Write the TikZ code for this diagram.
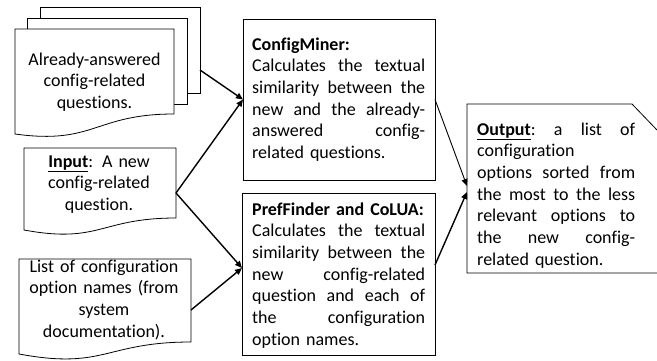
\documentclass[tikz,border=0pt]{standalone}
\usepackage{fontspec}
\setmainfont{Carlito}[Ligatures=NoCommon]
\usetikzlibrary{arrows.meta}
\newcommand\jlA[1]{\leavevmode\hbox to 173pt{#1}}
\newcommand\jlB[1]{\leavevmode\hbox to 158pt{#1}}
\begin{document}
\begin{tikzpicture}[x=1pt,y=-1pt,
  shp/.style={draw=black, line width=0.8pt, fill=white},
  ghost/.style={inner sep=0pt, outer sep=0pt, anchor=north west},
  txt/.style={inner sep=0pt, font=\fontsize{18pt}{21.67pt}\selectfont},
  arr/.style={line width=1.4pt, -{Triangle[length=7pt,width=6pt]}},
  thinarr/.style={line width=0.9pt, -{Triangle[length=7pt,width=6pt]}}]
\useasboundingbox[fill=white] (0,0) rectangle (657,360);

% stacked documents
\node[ghost, shp, minimum width=160pt, minimum height=86pt] (aa3) at (40,7) {};
\node[ghost, shp, minimum width=160pt, minimum height=86pt] (aa2) at (27,18) {};
\node[ghost, minimum width=159pt, minimum height=85pt] (aa1) at (15,29) {};
\draw[shp] (aa1.north west) -- (aa1.north east) -- (aa1.south east)
  .. controls (94.5,114) and (94.5,145) .. (15,134) -- cycle;

% input document
\node[ghost, minimum width=152pt, minimum height=90pt] (inp) at (24,148) {};
\draw[shp] (inp.north west) -- (inp.north east) -- (176,218)
  .. controls (100,218) and (100,244) .. (24,230) -- cycle;

% list document
\node[ghost, minimum width=172pt, minimum height=102pt] (lst) at (19,259) {};
\draw[shp] (lst.north west) -- (lst.north east) -- (191,342)
  .. controls (105,342) and (105,370) .. (19,354) -- cycle;

% process boxes
\node[ghost, shp, minimum width=192pt, minimum height=161pt] (cm) at (243,19) {};
\node[ghost, shp, minimum width=193pt, minimum height=162pt] (pf) at (242,193) {};

% output
\node[ghost, minimum width=190pt, minimum height=169pt] (out) at (467,104) {};
\draw[draw=black, line width=0.8pt] (657,130) -- (632,104) -- (out.north west)
  -- (out.south west) -- (out.south east);

% texts
\node[txt, align=center, text width=160pt, anchor=base] (aat) at (94.5,65)
  {Already-answered\\config-related\\questions.};
\node[txt, align=center, text width=150pt, anchor=base] (inpt) at (99,167)
  {\underline{\textbf{Input}}: A new\\config-related\\question.};
\node[txt, align=center, text width=170pt, anchor=base] (lstt) at (104,272)
  {List of configuration\\option names (from\\system\\documentation).};
\node[txt, align=left, text width=174pt, anchor=base west] (cmt) at (252,50)
  {\textbf{ConfigMiner:}\\
   \jlA{Calculates\hfill the\hfill textual}\\
   \jlA{similarity\hfill between\hfill the}\\
   \jlA{new\hfill and\hfill the\hfill already-}\\
   \jlA{answered\hfill config-}\\
   related questions.};
\node[txt, align=left, text width=174pt, anchor=base west] (pft) at (252,215)
  {\textbf{PrefFinder and CoLUA:}\\
   \jlA{Calculates\hfill the\hfill textual}\\
   \jlA{similarity\hfill between\hfill the}\\
   \jlA{new\hfill config-related}\\
   \jlA{question\hfill and\hfill each\hfill of}\\
   \jlA{the\hfill configuration}\\
   option names.};
\node[txt, align=left, text width=159pt, anchor=base west] (outt) at (477,135)
  {\jlB{\underline{\textbf{Output}}:\hfill a\hfill list\hfill of}\\
   configuration\\
   \jlB{options\hfill sorted\hfill from}\\
   \jlB{the\hfill most\hfill to\hfill the\hfill less}\\
   \jlB{relevant\hfill options\hfill to}\\
   \jlB{the\hfill new\hfill config-}\\
   related question.};

% connectors
\draw[arr] ([yshift=-20pt]aa3.east) -- (cm.west);
\draw[arr] (inp.east) -- (cm.west);
\draw[arr] (inp.east) -- ([yshift=6pt]pf.west);
\draw[arr] (lst.east) -- ([yshift=6pt]pf.west);
\draw[thinarr] (cm.east) -- ([yshift=2.5pt]out.west);
\draw[arr] ([yshift=9pt]pf.east) -- ([yshift=-3.5pt]out.west);
\end{tikzpicture}
\end{document}
